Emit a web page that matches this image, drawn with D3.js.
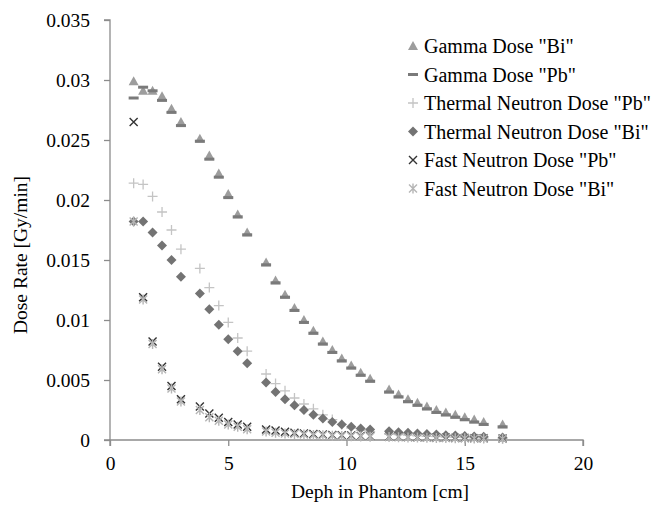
<!DOCTYPE html>
<html>
<head>
<meta charset="utf-8">
<script src="https://cdn.jsdelivr.net/npm/d3@7/dist/d3.min.js"></script>
<style>
  body { margin: 0; background: #fff; }
  svg { display: block; }
  svg text { font-family: "Liberation Serif", "Tinos", "Times New Roman", "DejaVu Serif", serif !important; fill: #000; }
</style>
</head>
<body>
<svg id="chart" width="665" height="505"></svg>
<script>
// ---- data ----
const depth = [1.0,1.4,1.8,2.2,2.6,3.0, 3.8,4.2,4.6,5.0,5.4,5.8,
               6.6,7.0,7.4,7.8,8.2,8.6,9.0,9.4,9.8,10.2,10.6,11.0,
               11.8,12.2,12.6,13.0,13.4,13.8,14.2,14.6,15.0,15.4,15.8, 16.6];

const gammaBi = [0.0299,0.0291,0.0291,0.02865,0.0276,0.0265, 0.0251,0.0237,0.0222,0.0205,0.0188,0.0173,
                 0.0148,0.0133,0.0121,0.0110,0.0100,0.0091,0.0082,0.0075,0.0068,0.0062,0.0056,0.0051,
                 0.0042,0.0038,0.0034,0.0031,0.0028,0.0025,0.0023,0.0021,0.0019,0.0017,0.0015, 0.0013];
const gammaPb = [0.0285,0.0294,0.0291,0.0283,0.0273,0.0262, 0.0249,0.0234,0.0219,0.0202,0.0186,0.0171,
                 0.0146,0.0131,0.0119,0.0108,0.0098,0.0089,0.0080,0.0073,0.0066,0.0060,0.0054,0.0049,
                 0.0040,0.0036,0.0032,0.0029,0.0026,0.0023,0.0021,0.0019,0.0017,0.0015,0.0013, 0.0011];
const thermalPb = [0.0214,0.0213,0.0203,0.0190,0.0175,0.0159, 0.0143,0.0127,0.0112,0.0098,0.0085,0.0074,
                   0.0055,0.0047,0.0041,0.0035,0.0030,0.0026,0.0021,0.0017,0.0013,0.0010,0.0008,0.0007,
                   0.0005,0.00045,0.0004,0.00035,0.0003,0.00028,0.00025,0.00022,0.0002,0.00018,0.00016, 0.00012];
const thermalBi = [0.0182,0.0182,0.0173,0.0162,0.0150,0.0136, 0.0122,0.0109,0.0096,0.0084,0.0074,0.0064,
                   0.0048,0.0040,0.0034,0.0029,0.0025,0.0021,0.0018,0.0015,0.0013,0.0011,0.00096,0.00088,
                   0.00073,0.00065,0.0006,0.00055,0.0005,0.00045,0.0004,0.00037,0.00034,0.0003,0.00028, 0.0002];
const fastPb = [0.0265,0.0119,0.0082,0.0061,0.0045,0.0034, 0.0028,0.0022,0.00185,0.0015,0.0013,0.0011,
                0.00088,0.0008,0.00068,0.0006,0.00055,0.0005,0.00046,0.00042,0.0004,0.00037,0.00034,0.00032,
                0.00028,0.00026,0.00024,0.00022,0.0002,0.00019,0.00018,0.00017,0.00016,0.00015,0.00014, 0.00012];
const fastBi = [0.0182,0.0117,0.0080,0.0059,0.0043,0.0032, 0.0025,0.0019,0.0016,0.0013,0.0011,0.0009,
                0.0007,0.0006,0.00055,0.0005,0.00046,0.00042,0.00039,0.00036,0.00034,0.00032,0.0003,0.00028,
                0.00025,0.00023,0.00021,0.0002,0.00018,0.00017,0.00016,0.00015,0.00014,0.00013,0.00012, 0.0001];

const seriesNames = ['Gamma Dose "Bi"','Gamma Dose "Pb"','Thermal Neutron Dose "Pb"',
                     'Thermal Neutron Dose "Bi"','Fast Neutron Dose "Pb"','Fast Neutron Dose "Bi"'];
const xTicks = [0,5,10,15,20];
const yTicks = [0,0.005,0.01,0.015,0.02,0.025,0.03,0.035];
const xTitle = "Deph in Phantom [cm]";
const yTitle = "Dose Rate [Gy/min]";

// ---- layout ----
const svg = d3.select("#chart");
const x = d3.scaleLinear().domain([0,20]).range([110,583]);
const y = d3.scaleLinear().domain([0,0.035]).range([440,20]);
const axisColor = "#8c8c8c";
const serif = '"Liberation Serif", "Tinos", "Times New Roman", serif';
const tickFont = "19.5px";
const titleFont = "19.5px";
const legendFont = "20px";

const gx = svg.append("g").attr("transform", `translate(0,${y(0)})`)
  .call(d3.axisBottom(x).tickValues(xTicks).tickSize(6).tickPadding(10).tickFormat(d3.format("d")));
const gy = svg.append("g").attr("transform", `translate(${x(0)},0)`)
  .call(d3.axisLeft(y).tickValues(yTicks).tickSize(6).tickPadding(14)
        .tickFormat(d => d === 0 ? "0" : String(+d.toFixed(3))));
[gx, gy].forEach(g => {
  g.attr("font-family", serif).attr("font-size", tickFont);
  g.select(".domain").attr("stroke", axisColor).attr("stroke-width", 1.3);
  g.selectAll(".tick line").attr("stroke", axisColor).attr("stroke-width", 1.3);
  g.selectAll(".tick text").style("font-family", serif).style("font-size", tickFont).attr("fill", "#000");
});
gx.select(".domain").attr("d", `M${x(0)},6V0H${x(20)}V6`);
gy.select(".domain").attr("d", `M-6,${y(0.035)}H0V${y(0)}H-6`);

svg.append("text").attr("x", 380).attr("y", 498)
  .attr("text-anchor","middle").style("font-family", serif).style("font-size", titleFont).text(xTitle);
svg.append("text").attr("transform", "translate(27,255) rotate(-90)")
  .attr("text-anchor","middle").style("font-family", serif).style("font-size", titleFont).text(yTitle);

// markers
const styles = [
  {draw: g => g.append("path").attr("d", "M0,-5L5,4L-5,4Z").attr("fill", "#9d9d9d")},
  {draw: g => g.append("rect").attr("x",-5).attr("y",-1.5).attr("width",10).attr("height",3).attr("fill", "#7a7a7a")},
  {draw: g => g.append("path").attr("d", "M-5,0H5M0,-5V5").attr("stroke", "#c4c4c4").attr("stroke-width", 1.3).attr("fill","none")},
  {draw: g => g.append("path").attr("d", "M0,-5L5,0L0,5L-5,0Z").attr("fill", "#737373")},
  {draw: g => g.append("path").attr("d", "M-4,-4L4,4M-4,4L4,-4").attr("stroke", "#333").attr("stroke-width", 1.4).attr("fill","none")},
  {draw: g => g.append("path").attr("d", "M-4,-4L4,4M-4,4L4,-4M0,-5V5").attr("stroke", "#b5b5b5").attr("stroke-width", 1.4).attr("fill","none")}
];
const allSeries = [gammaBi, gammaPb, thermalPb, thermalBi, fastPb, fastBi];

allSeries.forEach((vals, si) => {
  const g = svg.append("g");
  vals.forEach((v, i) => {
    const m = g.append("g").attr("transform", `translate(${x(depth[i])},${y(v)})`);
    styles[si].draw(m);
  });
});

// legend
const legRows = [46, 74.5, 103, 131.5, 160, 188.5];
seriesNames.forEach((name, i) => {
  const m = svg.append("g").attr("transform", `translate(413,${legRows[i]})`);
  styles[i].draw(m);
  svg.append("text").attr("x", 424).attr("y", legRows[i]).attr("dy", "0.35em")
    .style("font-family", serif).style("font-size", legendFont).text(name);
});
</script>
</body>
</html>
